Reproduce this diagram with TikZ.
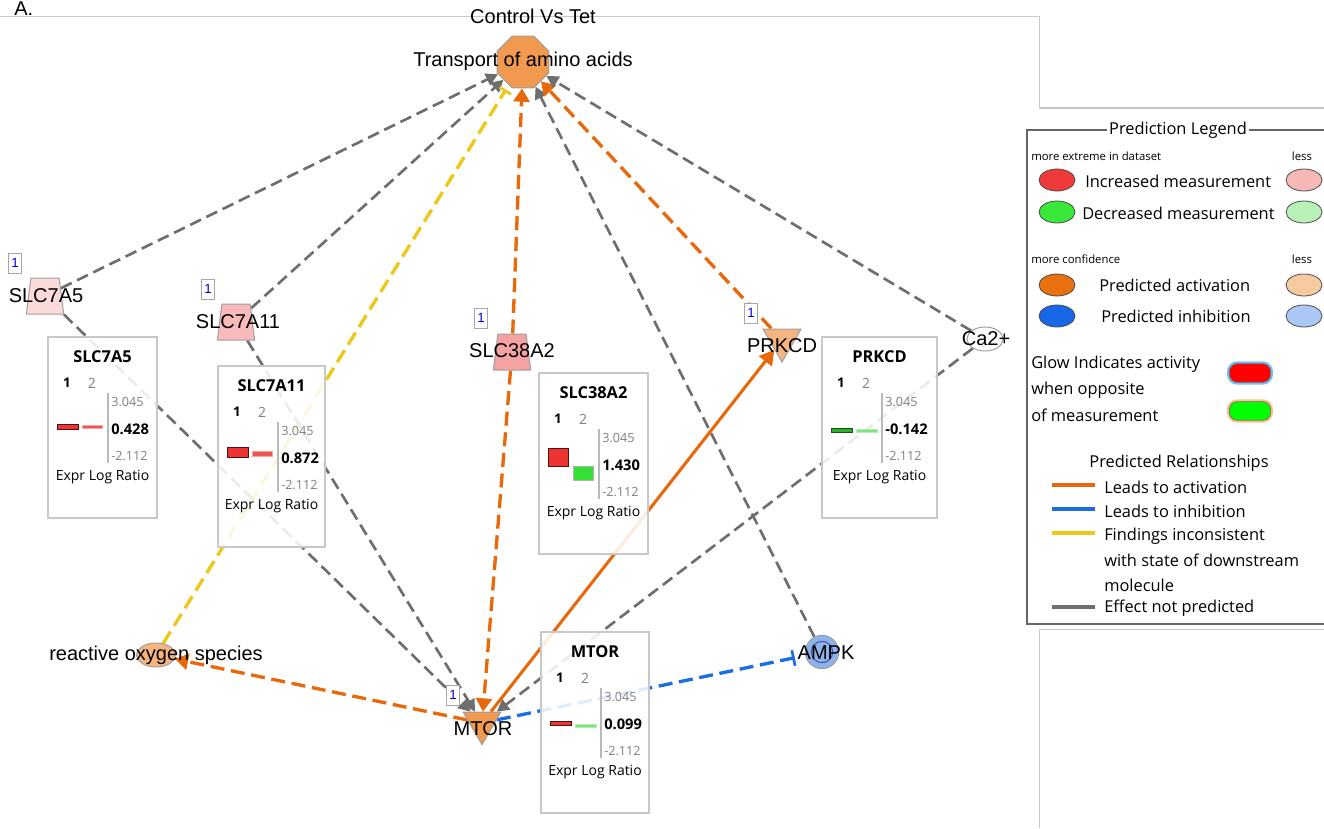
\documentclass[tikz,border=0pt]{standalone}
\usepackage{fontspec}
\setmainfont{Liberation Sans}
\newfontfamily\uifont{Open Sans}
\usetikzlibrary{shapes.geometric,arrows.meta}

\definecolor{edgegray}{HTML}{6E6E6E}
\definecolor{actorange}{HTML}{E8680C}
\definecolor{incyellow}{HTML}{ECC81A}
\definecolor{inhblue}{HTML}{1C6DE0}
\definecolor{nodeorange}{HTML}{F0994F}
\definecolor{lightorange}{HTML}{F6B47F}
\definecolor{pinkA}{HTML}{FBDADA}
\definecolor{pinkB}{HTML}{F8BABA}
\definecolor{pinkC}{HTML}{F4A2A2}
\definecolor{ampkblue}{HTML}{8DB4E8}
\definecolor{framegray}{HTML}{C8C8C8}
\definecolor{barred}{HTML}{EE3333}
\definecolor{bardark}{HTML}{4A1212}
\definecolor{bargreen}{HTML}{33E033}
\definecolor{bardarkg}{HTML}{1E4A1E}
\definecolor{barlgreen}{HTML}{7CE67C}
\definecolor{legred}{HTML}{F03A3A}
\definecolor{legpink}{HTML}{F9B8B8}
\definecolor{leggreen}{HTML}{3AE83A}
\definecolor{leglgreen}{HTML}{B8F2B8}
\definecolor{legorange}{HTML}{E8700F}
\definecolor{leglorange}{HTML}{F8CAA2}
\definecolor{legblue}{HTML}{1767E6}
\definecolor{leglblue}{HTML}{AAC8F3}

\pgfdeclarelayer{edges}
\pgfdeclarelayer{panels}
\pgfsetlayers{edges,panels,main}

\tikzset{
  lbl/.style={font=\fontsize{15}{18}\selectfont, inner sep=0pt},
  shapeline/.style={draw=gray!75, line width=0.75pt},
  octo/.style={shapeline, regular polygon, regular polygon sides=8, minimum size=42pt, inner sep=0pt, fill=nodeorange},
  trap/.style={shapeline, trapezium, trapezium left angle=79, trapezium right angle=79,
    trapezium stretches=true, minimum width=28pt, minimum height=27pt, inner sep=0pt},
  dtri/.style={shapeline, regular polygon, regular polygon sides=3, shape border rotate=180, inner sep=0pt},
  numbox/.style={draw=gray!70, fill=white, minimum width=9.75pt, minimum height=15pt, inner sep=0pt,
    font=\fontsize{10}{12}\selectfont, text=blue!85!black},
  gedge/.style={draw=edgegray, line width=2pt, dash pattern=on 9pt off 4.5pt,
    -{Triangle[length=9pt,width=9.5pt]}},
  oedge/.style={draw=actorange, line width=2.5pt, dash pattern=on 10.5pt off 5pt,
    -{Triangle[length=10pt,width=12pt]}},
  osolid/.style={draw=actorange, line width=2.3pt, -{Triangle[length=11pt,width=12pt]}},
  yedge/.style={draw=incyellow, line width=2.5pt, dash pattern=on 10.5pt off 5pt,
    -{Bar[width=10pt,line width=2pt]}, shorten >=4pt},
  bedge/.style={draw=inhblue, line width=2.5pt, dash pattern=on 10.5pt off 5pt,
    -{Bar[width=12pt,line width=2pt]}, shorten >=8pt},
  panelframe/.style={draw=framegray, line width=0.9pt},
  ptitle/.style={font=\uifont\bfseries\fontsize{12.3}{14}\selectfont, inner sep=0pt},
  phead/.style={font=\uifont\bfseries\fontsize{10}{12}\selectfont, inner sep=0pt},
  phead2/.style={font=\uifont\fontsize{10.5}{12}\selectfont, text=gray, inner sep=0pt},
  pscale/.style={font=\uifont\fontsize{9.5}{11}\selectfont, text=gray, inner sep=0pt, anchor=west},
  pvalue/.style={font=\uifont\bfseries\fontsize{11}{13}\selectfont, inner sep=0pt, anchor=west},
  pfoot/.style={font=\uifont\fontsize{10.5}{12}\selectfont, inner sep=0pt},
  bardk/.style={fill=barred, draw=bardark, line width=0.6pt},
  barlt/.style={fill=barred!85, draw=barred!45, line width=0.5pt},
  bardkg/.style={fill=bargreen!80!black, draw=bardarkg, line width=0.6pt},
  barltg/.style={fill=barlgreen, draw=barlgreen!60, line width=0.5pt},
  legtxt/.style={font=\uifont\fontsize{12.3}{14}\selectfont, inner sep=0pt},
  legsmall/.style={font=\uifont\fontsize{8.5}{10}\selectfont, inner sep=0pt},
  legell/.style={ellipse, draw=gray!60!black, line width=0.6pt, minimum width=27pt, minimum height=16.5pt, inner sep=0pt},
  glowrect/.style={rounded corners=6pt, minimum width=31pt, minimum height=14pt, inner sep=0pt},
}

% expression panel: position, width, title, value, id, bars
\newcommand\exprpanel[6]{%
  \begin{scope}[shift={#1}, name prefix=#5-]
    \fill[white, fill opacity=0.87] (0,0) rectangle (#2,181);
    \draw[panelframe] (0,0) rectangle (#2,181);
    \node[ptitle] (title) at ({#2/2},19.5) {#3};
    \node[phead] (h1) at (19,46) {1};
    \node[phead2] (h2) at (44,46) {2};
    \draw[gray!55, line width=0.9pt] (60,56) -- (60,126);
    \node[pscale] (hi) at (63,64.5) {3.045};
    \node[pvalue] (val) at (63,92) {#4};
    \node[pscale] (lo) at (63,119) {-2.112};
    \node[pfoot] (foot) at ({#2/2},140) {Expr Log Ratio};
    #6
  \end{scope}}

\begin{document}
\begin{tikzpicture}[x=0.75pt,y=-0.75pt]
\useasboundingbox (0,0) rectangle (1324,828);
\clip (0,0) rectangle (1324,828);

% canvas frame
\draw[framegray, line width=0.8pt] (0,16.5) -- (1039.5,16.5) -- (1039.5,108) -- (1324,108);
\draw[framegray, line width=0.8pt] (1324,629.5) -- (1039.5,629.5) -- (1039.5,828);

\node[lbl, anchor=base west] (panel) at (14,15) {A.};
\node[lbl] (caption) at (533,16) {Control Vs Tet};

% molecules
\node[octo] (tra) at (523,62) {};
\node[trap, fill=pinkA] (s5) at (45,296) {\phantom{M}};
\node[trap, fill=pinkB] (s11) at (236,322) {\phantom{M}};
\node[trap, fill=pinkC] (s38) at (512,352) {\phantom{M}};
\node[dtri, fill=lightorange, minimum size=33pt] (prkcd) at (782,340) {};
\node[dtri, fill=nodeorange, minimum size=32.5pt] (mtor) at (482,723) {};
\node[ellipse, shapeline, fill=white, minimum width=27pt, minimum height=18pt, inner sep=0pt] (ca) at (985,339) {};
\node[circle, shapeline, fill=ampkblue, minimum size=25pt, inner sep=0pt] (ampk) at (822,652) {};
\node[circle, draw=gray!60!blue, line width=0.8pt, minimum size=16pt, inner sep=0pt] (ampkin) at (822,652) {};
\node[ellipse, shapeline, fill=lightorange, minimum width=29pt, minimum height=18pt, inner sep=0pt] (ros) at (156,655) {};

% relationships
\begin{pgfonlayer}{edges}
  \draw[gedge] (s5) -- (tra);
  \draw[gedge] (s11) -- (tra);
  \draw[yedge] (ros) -- (tra);
  \draw[oedge] (s38) -- (tra);
  \draw[oedge] (s38) -- (mtor);
  \draw[gedge] (ampk) -- (tra);
  \draw[oedge] (prkcd) -- (tra);
  \draw[gedge] (ca) -- (tra);
  \draw[osolid] (mtor) -- (prkcd);
  \draw[gedge] (ca) -- (mtor);
  \draw[gedge] (s5) -- (mtor);
  \draw[gedge] (s11) -- (mtor);
  \draw[oedge] (mtor) -- (ros);
  \draw[bedge] (mtor) -- (ampk);
\end{pgfonlayer}

% expression panels
\begin{pgfonlayer}{panels}
  \exprpanel{(48,337)}{109}{SLC7A5}{0.428}{p5}{%
    \draw[bardk] (9,87) rectangle (30,92);
    \draw[barlt] (34,88.5) rectangle (54,91.5);}
  \exprpanel{(218,366)}{107}{SLC7A11}{0.872}{p11}{%
    \draw[bardk] (9,81) rectangle (30,91);
    \draw[barlt] (34,85.5) rectangle (54,90.5);}
  \exprpanel{(539,373)}{109}{SLC38A2}{1.430}{p38}{%
    \draw[bardk] (9,75) rectangle (29,93);
    \draw[fill=bargreen, draw=gray!60, line width=0.6pt] (34,93) rectangle (54,107);}
  \exprpanel{(822,337)}{115}{PRKCD}{-0.142}{ppk}{%
    \draw[bardkg] (9,91) rectangle (30,95);
    \draw[barltg] (34,92) rectangle (55,95);}
  \exprpanel{(541,632)}{108}{MTOR}{0.099}{pmt}{%
    \draw[bardk] (9,89) rectangle (30,93);
    \draw[barltg] (34,92.5) rectangle (55,95.5);}
\end{pgfonlayer}

% molecule labels
\node[lbl] (l-tra) at (523,61) {Transport of amino acids};
\node[lbl] (l-s5) at (46,296) {SLC7A5};
\node[lbl] (l-s11) at (238,322) {SLC7A11};
\node[lbl] (l-s38) at (512,351) {SLC38A2};
\node[lbl] (l-prkcd) at (782,346) {PRKCD};
\node[lbl] (l-ca) at (986,339) {Ca2+};
\node[lbl] (l-mtor) at (483,729) {MTOR};
\node[lbl] (l-ampk) at (826,653) {AMPK};
\node[lbl] (l-ros) at (156,655) {reactive oxygen species};

% dataset count boxes
\node[numbox] (n-s5) at (15,263) {1};
\node[numbox] (n-s11) at (208,289) {1};
\node[numbox] (n-s38) at (481,318) {1};
\node[numbox] (n-prkcd) at (751,313) {1};
\node[numbox] (n-mtor) at (453,695) {1};

% prediction legend
\draw[gray!80!black, line width=0.8pt] (1027,130) rectangle (1340,624);
\node[legtxt, fill=white, inner xsep=2pt] (leg-title) at (1178,130) {Prediction Legend};
\node[legsmall, anchor=west] (leg-m1) at (1031,156) {more extreme in dataset};
\node[legsmall] (leg-l1) at (1302,156) {less};
\node[legell, fill=legred] (e1) at (1057,180) {};
\node[legtxt, anchor=west] (t1) at (1085,181) {Increased measurement};
\node[legell, fill=legpink] (e2) at (1304,180) {};
\node[legell, fill=leggreen] (e3) at (1057,212) {};
\node[legtxt, anchor=west] (t2) at (1082,213) {Decreased measurement};
\node[legell, fill=leglgreen] (e4) at (1304,212) {};
\node[legsmall, anchor=west] (leg-m2) at (1031,259) {more confidence};
\node[legsmall] (leg-l2) at (1302,259) {less};
\node[legell, fill=legorange] (e5) at (1057,285) {};
\node[legtxt, anchor=west] (t3) at (1099,285) {Predicted activation};
\node[legell, fill=leglorange] (e6) at (1304,285) {};
\node[legell, fill=legblue] (e7) at (1057,316) {};
\node[legtxt, anchor=west] (t4) at (1101,316) {Predicted inhibition};
\node[legell, fill=leglblue] (e8) at (1304,316) {};
\node[legtxt, anchor=west] (t5) at (1031,364) {Glow Indicates activity};
\node[legtxt, anchor=west] (t6) at (1031,390) {when opposite};
\node[legtxt, anchor=west] (t7) at (1031,415) {of measurement};
\node[glowrect, draw=blue!45!cyan, draw opacity=0.55, line width=3.5pt] (g1) at (1250,373) {};
\node[glowrect, fill=red, draw=black!55, line width=0.6pt] (r1) at (1250,373) {};
\node[glowrect, draw=orange!80, draw opacity=0.6, line width=3.5pt] (g2) at (1250,411) {};
\node[glowrect, fill=green, draw=black!55, line width=0.6pt] (r2) at (1250,411) {};
\node[legtxt] (t8) at (1179,463) {Predicted Relationships};
\draw[actorange, line width=3pt] (1052,485) -- (1095,485);
\node[legtxt, anchor=west] (t9) at (1104,487) {Leads to activation};
\draw[inhblue, line width=3pt] (1052,509) -- (1095,509);
\node[legtxt, anchor=west] (t10) at (1104,511) {Leads to inhibition};
\draw[incyellow, line width=3pt] (1052,533) -- (1095,533);
\node[legtxt, anchor=west] (t11) at (1104,536) {Findings inconsistent};
\node[legtxt, anchor=west] (t12) at (1104,560) {with state of downstream};
\node[legtxt, anchor=west] (t13) at (1104,585) {molecule};
\draw[edgegray, line width=3pt] (1052,607) -- (1095,607);
\node[legtxt, anchor=west] (t14) at (1104,608) {Effect not predicted};
\end{tikzpicture}
\end{document}
